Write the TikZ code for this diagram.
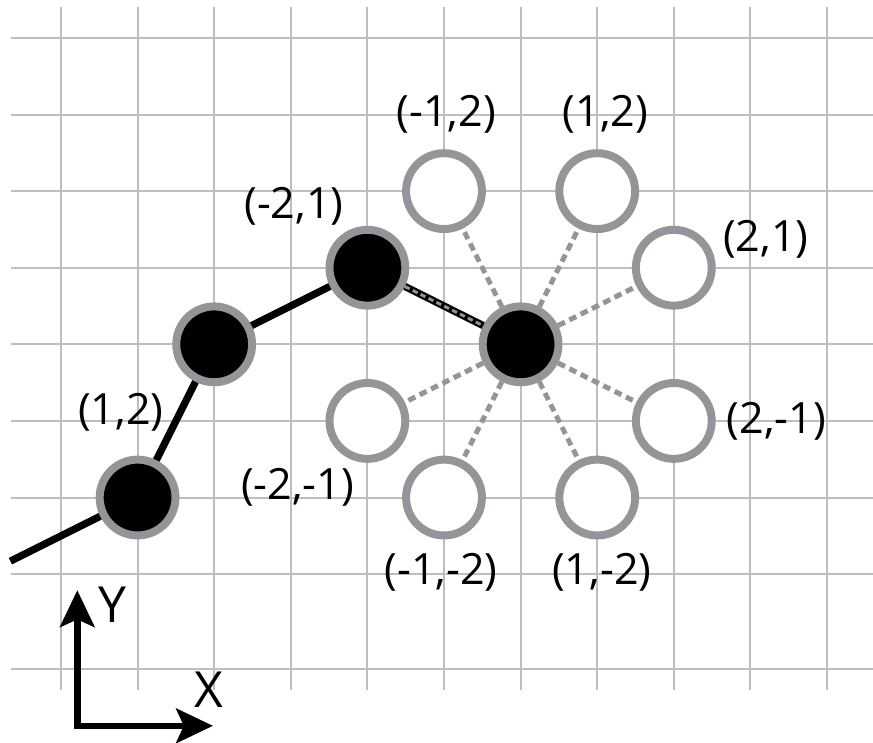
\documentclass[tikz,border=0pt]{standalone}
\usepackage{fontspec}
\setmainfont{Open Sans}
\usepackage{xcolor}
\definecolor{cRing}{HTML}{939598}
\definecolor{cGrid}{HTML}{BCBEC0}
\usetikzlibrary{positioning,arrows.meta}
\tikzset{
  node-done/.style={circle,draw=cRing,line width=0.104cm,fill=black,
    minimum size=0.99cm,inner sep=0pt},
  node-free/.style={circle,draw=cRing,line width=0.104cm,fill=white,
    minimum size=0.99cm,inner sep=0pt},
  coord-label/.style={inner sep=0pt,font=\fontsize{16}{19}\selectfont},
  axis-label/.style={inner sep=0pt,font=\fontsize{18.5}{22}\selectfont},
  grid-line/.style={draw=cGrid,line width=0.026cm},
  path-line/.style={draw=black,line width=0.095cm},
  path-dash/.style={draw=cRing,line width=0.038cm,dash pattern=on 0.07cm off 0.045cm},
  hop-line/.style={draw=cRing,line width=0.065cm,dash pattern=on 0.1cm off 0.065cm},
  axis-arrow/.style={{Stealth[length=0.48cm,width=0.45cm,inset=0.1cm]}-{Stealth[length=0.48cm,width=0.45cm,inset=0.1cm]},
    line width=0.085cm,draw=black},
}

\begin{document}
\begin{tikzpicture}
  \useasboundingbox (-0.796,-2.192) rectangle (10.6,7.495);
  % grid
  \foreach \i in {0,...,10}
    \draw[grid-line] (\i,-1.51) -- (\i,7.40);
  \foreach \j in {-1.24,0,1,...,7}
    \draw[grid-line] (-0.657,\j) -- (10.6,\j);
  % visited squares
  \node[node-done] (p1) at (1,1) {};
  \node[node-done] (p2) at (2,3) {};
  \node[node-done] (p3) at (4,4) {};
  \node[node-done] (p4) at (6,3) {};
  % candidate squares
  \node[node-free] (t1) at (5,5) {};
  \node[node-free] (t2) at (7,5) {};
  \node[node-free] (t3) at (8,4) {};
  \node[node-free] (t4) at (8,2) {};
  \node[node-free] (t5) at (7,1) {};
  \node[node-free] (t6) at (5,1) {};
  \node[node-free] (t7) at (4,2) {};
  \coordinate (p0) at (-0.66,0.17);
  \draw[path-line] (p0) -- (p1);
  \draw[path-line] (p1) -- (p2);
  \draw[path-line] (p2) -- (p3);
  \draw[path-line] (p3) -- (p4);
  \draw[path-dash] (p3) -- (p4);
  \foreach \t in {t1,t2,t3,t4,t5,t6,t7}
    \draw[hop-line] (p4) -- (\t);
  % labels
  \node[coord-label] (l1) at (5.03,6.0) {(-1,2)};
  \node[coord-label] (l2) at (7.11,6.0) {(1,2)};
  \node[coord-label] (l3) at (9.20,4.37) {(2,1)};
  \node[coord-label] (l4) at (9.34,1.99) {(2,-1)};
  \node[coord-label] (l5) at (7.06,0.02) {(1,-2)};
  \node[coord-label] (l6) at (4.96,0.02) {(-1,-2)};
  \node[coord-label] (l7) at (3.09,1.13) {(-2,-1)};
  \node[coord-label] (l8) at (3.04,4.80) {(-2,1)};
  \node[coord-label] (l9) at (0.78,2.11) {(1,2)};
  % axes
  \coordinate (ax-y) at (0.213,-0.21);
  \coordinate (ax-x) at (1.984,-1.98);
  \draw[axis-arrow] (ax-y) |- (ax-x);
  \node[axis-label] (ly) at (0.666,-0.40) {Y};
  \node[axis-label] (lx) at (1.93,-1.51) {X};
\end{tikzpicture}
\end{document}
